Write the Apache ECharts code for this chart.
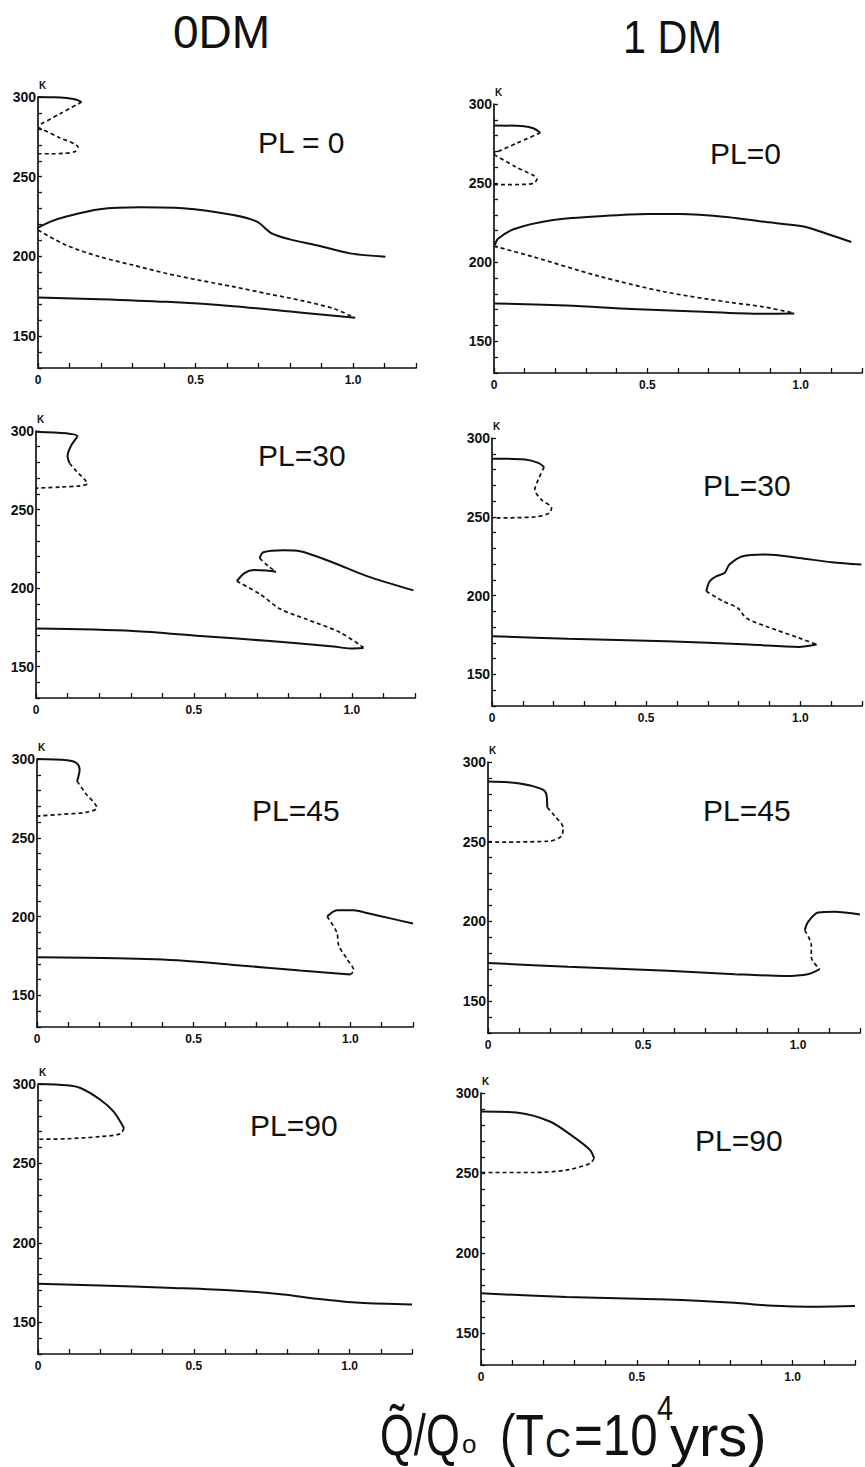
<!DOCTYPE html>
<html>
<head>
<meta charset="utf-8">
<title>Equilibrium temperature vs Q/Q0</title>
<script src="https://cdn.jsdelivr.net/npm/echarts@6/dist/echarts.min.js"></script>
<style>
  html, body { margin: 0; padding: 0; background: #fff; }
  #chart { width: 865px; height: 1467px; }
</style>
</head>
<body>
<div id="chart"></div>
<script>
// ---- axis ticks ----
const xTickLabels = ['0', '0.5', '1.0'];
const yTickLabels = ['150', '200', '250', '300'];
const columnTitles = ['0DM', '1 DM'];
const panelTitles = ['PL = 0', 'PL=0', 'PL=30', 'PL=30', 'PL=45', 'PL=45', 'PL=90', 'PL=90'];

// ---- 0 DM, PL = 0 ----
const p1UpperSolid = [[0, 300], [0.05, 299.8], [0.09, 299.3], [0.12, 298.4], [0.138, 296.8]];
const p1ZigA = [[0.138, 296.8], [0.07, 289.5], [0, 282]];
const p1ZigB = [[0, 281], [0.065, 274.8], [0.127, 268.5], [0.118, 265.8], [0.08, 264.6], [0.04, 264.4], [0, 264.4]];
const p1MidSolid = [[0, 218], [0.04, 221.8], [0.09, 225], [0.196, 229.6], [0.323, 230.8], [0.46, 230.2], [0.62, 226], [0.695, 221.8], [0.742, 214.5], [0.8, 210.7], [0.885, 207], [0.99, 201.9], [1.103, 199.8]];
const p1MidDashed = [[0, 216.5], [0.09, 207], [0.196, 199.8], [0.302, 194.5], [0.408, 189.3], [0.514, 185], [0.62, 181], [0.726, 176.7], [0.832, 172.5], [0.938, 167.3], [1.0, 162]];
const p1LowSolid = [[0, 174.2], [0.196, 173.2], [0.408, 171.5], [0.62, 168.8], [0.83, 164.8], [1.007, 161.5]];

// ---- 1 DM, PL = 0 ----
const p2UpperSolid = [[0, 286.4], [0.098, 286], [0.13, 284.5], [0.151, 281.8]];
const p2ZigA = [[0.151, 281.8], [0.075, 275.3], [0, 268.8]];
const p2ZigB = [[0, 268], [0.07, 260.3], [0.14, 252.5], [0.13, 250], [0.1, 249.2], [0, 249]];
const p2MidSolid = [[0.003, 211], [0.013, 214.9], [0.066, 221], [0.183, 226.4], [0.342, 229], [0.5, 230.5], [0.607, 230.5], [0.766, 228.5], [0.873, 225.7], [1.01, 222.6], [1.085, 218], [1.165, 212.8]];
const p2MidDashed = [[0, 210.2], [0.13, 203.3], [0.342, 191.2], [0.554, 181.4], [0.766, 174.7], [0.873, 172], [0.979, 167.8]];
const p2LowSolid = [[0, 174], [0.236, 172.6], [0.448, 170.5], [0.66, 168.8], [0.873, 167.4], [0.979, 167.6]];

// ---- 0 DM, PL = 30 ----
const p3UpperSolid = [[0, 299.6], [0.097, 298.5], [0.131, 296.8], [0.115, 292], [0.103, 287], [0.1, 283.7], [0.106, 279.5]];
const p3UpperDashed = [[0.106, 279.5], [0.129, 274.2], [0.155, 268.9], [0.163, 266.4], [0.139, 265.1], [0.076, 264.3], [0, 263.6]];
const p3RightTop = [[0.708, 219], [0.72, 222.8], [0.784, 224.1], [0.836, 223.5], [0.942, 216.1], [1.048, 207.6], [1.195, 198.5]];
const p3RightHook = [[0.708, 219], [0.735, 214], [0.76, 210.4]];
const p3RightMid = [[0.76, 210.4], [0.73, 211.2], [0.69, 211.5], [0.66, 209.5], [0.636, 204.4]];
const p3RightDashed = [[0.636, 204.4], [0.71, 196], [0.773, 186.7], [0.857, 180.1], [0.963, 171.7], [1.037, 162.2]];
const p3LowSolid = [[0, 174.2], [0.308, 172.7], [0.52, 169.5], [0.731, 166.4], [0.942, 162.8], [0.995, 161.5], [1.037, 161.8]];

// ---- 1 DM, PL = 30 ----
const p4UpperSolid = [[0, 286.9], [0.107, 286.3], [0.15, 284.2], [0.169, 281.6]];
const p4UpperDashed = [[0.169, 281.6], [0.15, 273.6], [0.139, 267.3], [0.16, 260.9], [0.193, 255.6], [0.187, 252.5], [0.139, 249.9], [0, 249.3]];
const p4RightSolid = [[0.695, 202.8], [0.706, 209.1], [0.727, 212.3], [0.754, 214.4], [0.77, 219.7], [0.813, 225], [0.888, 226.1], [0.995, 223.9], [1.102, 221.2], [1.198, 219.7]];
const p4RightDashed = [[0.695, 202.8], [0.749, 196.5], [0.797, 192.2], [0.824, 185.9], [0.888, 180.6], [0.995, 173.2], [1.053, 169]];
const p4LowSolid = [[0, 174.3], [0.246, 172.6], [0.567, 171.1], [0.834, 169], [0.995, 167.5], [1.053, 169]];

// ---- 0 DM, PL = 45 ----
const p5UpperSolid = [[0, 300], [0.096, 299.2], [0.126, 297.5], [0.136, 293.3], [0.128, 285.9]];
const p5UpperDashed = [[0.128, 285.9], [0.154, 278.5], [0.191, 269], [0.16, 266.3], [0.074, 264.8], [0, 263.8]];
const p5RightSolid = [[0.926, 200.1], [0.957, 204.1], [1.011, 204.1], [1.053, 202.3], [1.128, 198.9], [1.2, 195.6]];
const p5RightDashed = [[0.926, 200.1], [0.957, 190], [0.963, 181.6], [0.989, 173.2], [1.011, 165.8], [1.0, 163.3]];
const p5LowSolid = [[0, 174.2], [0.255, 173.6], [0.468, 172.1], [0.628, 169.4], [0.84, 165.8], [1.0, 163.3]];

// ---- 1 DM, PL = 45 ----
const p6UpperSolid = [[0, 287.7], [0.097, 286.7], [0.172, 283.1], [0.188, 279.9], [0.191, 271.5]];
const p6UpperDashed = [[0.191, 271.5], [0.215, 266.2], [0.242, 258.8], [0.237, 253.5], [0.194, 250.3], [0, 249.7]];
const p6RightSolid = [[1.022, 194.4], [1.032, 199.6], [1.065, 205.6], [1.118, 206], [1.2, 204.4]];
const p6RightDashed = [[1.022, 194.4], [1.043, 184.9], [1.043, 177.5], [1.07, 170.1]];
const p6LowSolid = [[0, 173.9], [0.258, 171.5], [0.58, 169], [0.796, 166.9], [0.957, 165.8], [1.032, 166.9], [1.07, 170.1]];

// ---- 0 DM, PL = 90 ----
const p7UpperSolid = [[0, 300], [0.093, 299.2], [0.136, 297.5], [0.2, 290.1], [0.242, 282.7], [0.276, 272.2]];
const p7UpperDashed = [[0.276, 272.2], [0.264, 268.6], [0.2, 266.9], [0.093, 265.5], [0, 265.2]];
const p7LowSolid = [[0, 174.2], [0.2, 173.2], [0.413, 171.7], [0.626, 170], [0.787, 167.5], [0.893, 164.8], [1.032, 162.2], [1.2, 161.2]];

// ---- 1 DM, PL = 90 ----
const p8UpperSolid = [[0, 288.5], [0.113, 287.8], [0.221, 282.2], [0.296, 272.7], [0.35, 264.3], [0.363, 259.1]];
const p8UpperDashed = [[0.363, 259.1], [0.35, 256], [0.274, 251.8], [0.167, 250.3], [0, 250.3]];
const p8LowSolid = [[0, 174.8], [0.274, 172.5], [0.597, 171], [0.813, 168.9], [0.92, 167.2], [1.082, 166.4], [1.2, 166.8]];

// curves per panel: [data, dashed?]
const panelCurves = [
  [[p1UpperSolid, false], [p1ZigA, true], [p1ZigB, true], [p1MidSolid, false], [p1MidDashed, true], [p1LowSolid, false]],
  [[p2UpperSolid, false], [p2ZigA, true], [p2ZigB, true], [p2MidSolid, false], [p2MidDashed, true], [p2LowSolid, false]],
  [[p3UpperSolid, false], [p3UpperDashed, true], [p3RightTop, false], [p3RightHook, true], [p3RightMid, false], [p3RightDashed, true], [p3LowSolid, false]],
  [[p4UpperSolid, false], [p4UpperDashed, true], [p4RightSolid, false], [p4RightDashed, true], [p4LowSolid, false]],
  [[p5UpperSolid, false], [p5UpperDashed, true], [p5RightSolid, false], [p5RightDashed, true], [p5LowSolid, false]],
  [[p6UpperSolid, false], [p6UpperDashed, true], [p6RightSolid, false], [p6RightDashed, true], [p6LowSolid, false]],
  [[p7UpperSolid, false], [p7UpperDashed, true], [p7LowSolid, false]],
  [[p8UpperSolid, false], [p8UpperDashed, true], [p8LowSolid, false]]
];

// ---- layout (pixel boxes of each plot area) ----
const gridBoxes = [
  { left: 38, top: 97, width: 378, height: 271 },
  { left: 494, top: 104, width: 377, height: 269 },
  { left: 36, top: 431, width: 379, height: 267 },
  { left: 492, top: 438, width: 373, height: 268 },
  { left: 37, top: 759, width: 376, height: 268 },
  { left: 488, top: 762, width: 372, height: 271 },
  { left: 38, top: 1084, width: 374, height: 270 },
  { left: 481, top: 1093, width: 374, height: 272 }
];
const panelTitlePos = [[258, 142], [710, 153], [258, 455], [703, 485], [252, 810], [703, 810], [250, 1125], [695, 1140]];

const INK = '#111';

function xLabel(v) {
  const r = Math.round(v * 10) / 10;
  if (r === 0) return xTickLabels[0];
  if (r === 0.5) return xTickLabels[1];
  if (r === 1) return xTickLabels[2];
  return '';
}
function yLabel(v) {
  const s = String(Math.round(v));
  return yTickLabels.indexOf(s) >= 0 ? s : '';
}

const grids = [], xAxes = [], yAxes = [], series = [];
gridBoxes.forEach(function (b, i) {
  grids.push(Object.assign({ containLabel: false }, b));
  xAxes.push({
    type: 'value', gridIndex: i, min: 0, max: 1.2, interval: 0.1,
    axisLine: { show: true, onZero: false, lineStyle: { color: INK, width: 1.7 } },
    axisTick: { show: true, inside: true, length: 5, lineStyle: { color: INK, width: 1.3 } },
    axisLabel: { show: true, formatter: xLabel, margin: 6, color: INK, fontSize: 12, fontWeight: 'bold', fontFamily: 'Liberation Sans' },
    splitLine: { show: false }
  });
  yAxes.push({
    type: 'value', gridIndex: i, min: 130, max: 300, interval: 10,
    name: 'K', nameLocation: 'end', nameGap: 2,
    nameTextStyle: { color: INK, fontSize: 10, fontWeight: 'bold', fontFamily: 'Liberation Sans', align: 'left', verticalAlign: 'bottom', padding: [0, 0, 0, 1] },
    axisLine: { show: true, onZero: false, lineStyle: { color: INK, width: 1.7 } },
    axisTick: { show: true, inside: true, length: 4, lineStyle: { color: INK, width: 1.3 } },
    axisLabel: { show: true, formatter: yLabel, margin: 2, color: INK, fontSize: 14, fontWeight: 'bold', fontFamily: 'Liberation Sans' },
    splitLine: { show: false }
  });
  panelCurves[i].forEach(function (c, k) {
    series.push({
      type: 'line', name: 'panel' + (i + 1) + '-' + k,
      xAxisIndex: i, yAxisIndex: i,
      data: c[0], showSymbol: false, smooth: 0.3,
      lineStyle: { color: INK, width: c[1] ? 1.7 : 2, type: c[1] ? [4, 3] : 'solid' },
      silent: true, animation: false
    });
  });
});

function txt(x, y, text, size, sx, family) {
  return {
    type: 'text', x: x, y: y, scaleX: sx || 1, silent: true,
    style: {
      text: text, fill: INK, align: 'left', verticalAlign: 'middle',
      font: size + 'px "' + (family || 'Liberation Sans') + '"'
    }
  };
}

const graphics = [
  txt(173, 32, columnTitles[0], 46, 1),
  txt(623, 37, columnTitles[1], 46, 0.9)
];
panelTitles.forEach(function (t, i) {
  graphics.push(txt(panelTitlePos[i][0], panelTitlePos[i][1], t, 30, 1));
});
// horizontal axis caption: Q~/Q0 (Tc = 10^4 yrs)
graphics.push(txt(380, 1435, 'Q\u0303/Q', 58, 0.75));
graphics.push(txt(462, 1444, 'o', 26, 1));
graphics.push(txt(500, 1435, '(T', 58, 0.8));
graphics.push(txt(545, 1443, 'C', 40, 0.9));
graphics.push(txt(574, 1435, '=10', 58, 0.85));
graphics.push(txt(657, 1407, '4', 36, 0.8));
graphics.push(txt(670, 1435, 'yrs)', 58, 1));

const chart = echarts.init(document.getElementById('chart'), null, { renderer: 'svg' });
chart.setOption({
  backgroundColor: '#fff',
  animation: false,
  grid: grids,
  xAxis: xAxes,
  yAxis: yAxes,
  series: series,
  graphic: graphics
});
</script>
</body>
</html>
